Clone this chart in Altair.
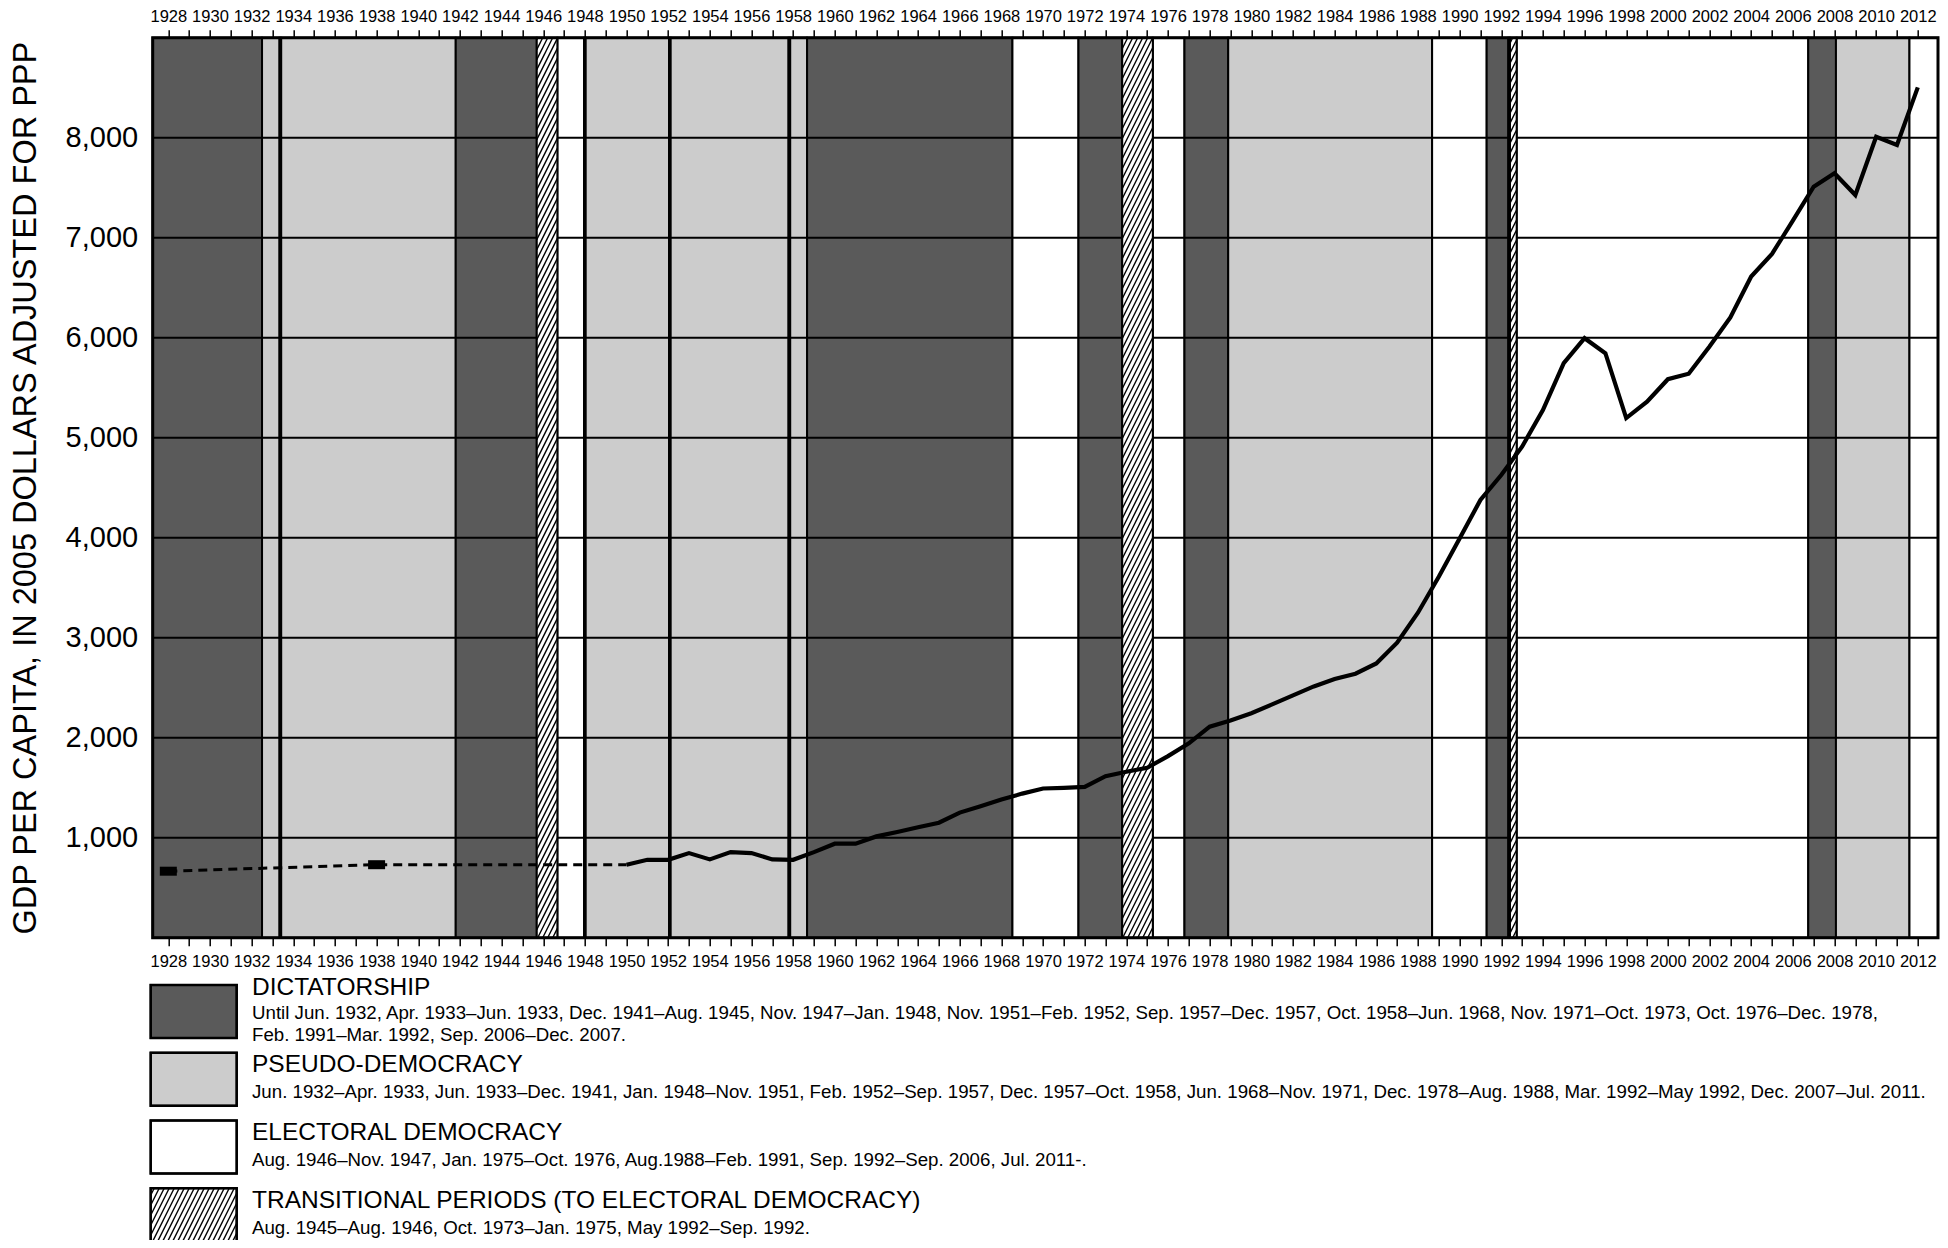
import math
import altair as alt
import pandas as pd

FONT = "Liberation Sans, Arial, Helvetica, sans-serif"

# ---------------- data ----------------
EARLY_YEARS = [1928, 1938, 1950]
EARLY_GDP = [665, 730, 730]
MARKER_YEARS = [1928, 1938]
MARKER_GDP = [665, 730]

SOLID_YEARS = list(range(1950, 2013))
SOLID_GDP = [730, 779, 779, 846, 783, 856, 846, 783, 779, 856,
             940, 940, 1013, 1057, 1104, 1150, 1251, 1314, 1381, 1441,
             1492, 1498, 1508, 1615, 1659, 1699, 1816, 1943, 2110, 2171,
             2244, 2333, 2423, 2513, 2587, 2640, 2743, 2950, 3250, 3610,
             3993, 4377, 4627, 4910, 5277, 5745, 5995, 5845, 5196, 5360,
             5585, 5640, 5912, 6202, 6612, 6838, 7170, 7510, 7644, 7427,
             8010, 7927, 8503]

Y_TICKS = [1000, 2000, 3000, 4000, 5000, 6000, 7000, 8000]
X_TICKS = list(range(1928, 2013))

REG_START = [1927.25, 1932.5, 1933.34, 1933.42, 1941.8, 1945.69, 1946.68, 1947.96, 1948.04,
             1952.04, 1952.12, 1957.78, 1957.86, 1958.67, 1968.53, 1971.7, 1973.8, 1975.27,
             1976.79, 1978.89, 1988.68, 1991.3, 1992.34, 1992.42, 1992.74, 2006.74, 2008.07, 2011.6]
REG_END = [1932.5, 1933.34, 1933.42, 1941.8, 1945.69, 1946.68, 1947.96, 1948.04, 1952.04,
           1952.12, 1957.78, 1957.86, 1958.67, 1968.53, 1971.7, 1973.8, 1975.27, 1976.79,
           1978.89, 1988.68, 1991.3, 1992.34, 1992.42, 1992.74, 2006.74, 2008.07, 2011.6, 2012.97]
REG_TYPE = ["D", "P", "D", "P", "D", "T", "E", "D", "P",
            "D", "P", "D", "P", "D", "E", "D", "T", "E",
            "D", "P", "E", "D", "P", "T", "E", "D", "P", "E"]

REGIMES = ["D", "P", "E", "T"]
LEGEND_TITLES = ["DICTATORSHIP", "PSEUDO-DEMOCRACY", "ELECTORAL DEMOCRACY",
                 "TRANSITIONAL PERIODS (TO ELECTORAL DEMOCRACY)"]
LEGEND_DETAILS = [
    ["Until Jun. 1932, Apr. 1933\u2013Jun. 1933, Dec. 1941\u2013Aug. 1945, Nov. 1947\u2013Jan. 1948, "
     "Nov. 1951\u2013Feb. 1952, Sep. 1957\u2013Dec. 1957, Oct. 1958\u2013Jun. 1968, Nov.  1971\u2013Oct. 1973, "
     "Oct. 1976\u2013Dec. 1978,",
     "Feb. 1991\u2013Mar. 1992, Sep. 2006\u2013Dec. 2007."],
    ["Jun. 1932\u2013Apr. 1933, Jun. 1933\u2013Dec. 1941, Jan. 1948\u2013Nov. 1951, Feb. 1952\u2013Sep. 1957, "
     "Dec. 1957\u2013Oct. 1958, Jun. 1968\u2013Nov. 1971, Dec. 1978\u2013Aug. 1988, Mar. 1992\u2013May 1992, "
     "Dec. 2007\u2013Jul. 2011."],
    ["Aug. 1946\u2013Nov. 1947, Jan. 1975\u2013Oct. 1976, Aug.1988\u2013Feb. 1991, Sep. 1992\u2013Sep. 2006, "
     "Jul. 2011-."],
    ["Aug. 1945\u2013Aug. 1946, Oct. 1973\u2013Jan. 1975, May 1992\u2013Sep. 1992."],
]

# ---------------- layout / style ----------------
W, H = 1785.3, 900
X_DOMAIN = [1927.25, 2012.97]
Y_DOMAIN = [0, 9000]
COLORS = ["#5a5a5a", "#cccccc", "#ffffff", "#ffffff"]
PAD = {"left": 144.7, "top": 29.7, "right": 2, "bottom": 302.3}

LEG_TOP = 947.3
PITCH = 67.75
SW_X0, SW_X1, SW_H = -2, 84, 53
TXT_X = 99.3

ppy = W / (X_DOMAIN[1] - X_DOMAIN[0])
ppv = H / (Y_DOMAIN[1] - Y_DOMAIN[0])


def hatch(x0, x1, y0, y1, spacing=5.0, slope=2.0):
    segs = []
    h = y1 - y0
    k0 = math.floor((x0 - h / slope) / spacing)
    k1 = math.ceil(x1 / spacing)
    for k in range(k0, k1 + 1):
        c = k * spacing
        xa = max(x0, c)
        xb = min(x1, c + h / slope)
        if xb - xa > 0.2:
            segs.append((xa, y0 + slope * (xa - c), xb, y0 + slope * (xb - c)))
    return segs


reg_df = pd.DataFrame({"start": REG_START, "end": REG_END, "regime": REG_TYPE})
base_df = reg_df[reg_df.regime != "T"]
trans_df = reg_df[reg_df.regime == "T"]

hrows = []
for s, e in zip(trans_df.start, trans_df.end):
    for xa, ya, xb, yb in hatch((s - X_DOMAIN[0]) * ppy, (e - X_DOMAIN[0]) * ppy, 0, H):
        hrows.append({"x1": X_DOMAIN[0] + xa / ppy, "x2": X_DOMAIN[0] + xb / ppy,
                      "y1": ya / ppv, "y2": yb / ppv})
hatch_df = pd.DataFrame(hrows)

xs = alt.Scale(domain=X_DOMAIN, nice=False, zero=False)
ys = alt.Scale(domain=Y_DOMAIN, nice=False, zero=False)
fill_scale = alt.Scale(domain=REGIMES, range=COLORS)


def x_axis(orient, pad):
    return alt.Axis(orient=orient, values=X_TICKS, format="d",
                    labelExpr="datum.value % 2 == 0 ? datum.label : ''",
                    tickSize=8, tickWidth=1.5, tickColor="black", domain=False, grid=False,
                    labelFont=FONT, labelFontSize=16.5, labelColor="black", labelPadding=pad,
                    labelOverlap=False, labelFlush=False, labelBound=False, title=None)


y_axis = alt.Axis(values=Y_TICKS, format=",d", ticks=False, domain=False, grid=False,
                  labelFont=FONT, labelFontSize=29, labelColor="black", labelPadding=15,
                  labelOverlap=False, labelFlush=False, labelBound=False,
                  title="GDP PER CAPITA, IN 2005 DOLLARS ADJUSTED FOR PPP",
                  titleFont=FONT, titleFontSize=32.5, titleFontWeight="normal",
                  titleColor="black", titlePadding=23)

base_rects = alt.Chart(base_df).mark_rect(stroke="black", strokeWidth=2).encode(
    x=alt.X("start:Q", scale=xs, axis=x_axis("bottom", 8)),
    x2="end:Q",
    y=alt.Y(datum=0, scale=ys, axis=None),
    y2=alt.Y2(datum=9000),
    fill=alt.Fill("regime:N", scale=fill_scale, legend=None),
)

grid = alt.Chart(pd.DataFrame({"v": Y_TICKS})).mark_rule(color="black", strokeWidth=2).encode(
    y=alt.Y("v:Q", scale=ys, axis=y_axis)
)

trans_rects = alt.Chart(trans_df).mark_rect(stroke="black", strokeWidth=2).encode(
    x=alt.X("start:Q", scale=xs, axis=x_axis("top", 5)),
    x2="end:Q",
    y=alt.Y(datum=0, scale=ys, axis=None),
    y2=alt.Y2(datum=9000),
    fill=alt.Fill("regime:N", scale=fill_scale, legend=None),
)

hatch_lines = alt.Chart(hatch_df).mark_rule(color="black", strokeWidth=1.4).encode(
    x=alt.X("x1:Q", scale=xs, axis=None), x2="x2:Q",
    y=alt.Y("y1:Q", scale=ys, axis=None), y2="y2:Q",
)

early = alt.Chart(pd.DataFrame({"year": EARLY_YEARS, "gdp": EARLY_GDP})).mark_line(
    color="black", strokeWidth=3, strokeDash=[9, 6]).encode(
    x=alt.X("year:Q", scale=xs, axis=None), y=alt.Y("gdp:Q", scale=ys, axis=None))

markers = alt.Chart(pd.DataFrame({"year": MARKER_YEARS, "gdp": MARKER_GDP})).mark_tick(
    orient="horizontal", size=17, thickness=9, color="black", opacity=1).encode(
    x=alt.X("year:Q", scale=xs, axis=None), y=alt.Y("gdp:Q", scale=ys, axis=None))

solid = alt.Chart(pd.DataFrame({"year": SOLID_YEARS, "gdp": SOLID_GDP})).mark_line(
    color="black", strokeWidth=4.2, strokeJoin="miter").encode(
    x=alt.X("year:Q", scale=xs, axis=None), y=alt.Y("gdp:Q", scale=ys, axis=None))

border = alt.Chart(pd.DataFrame({"a": [0]})).mark_rect(
    filled=False, stroke="black", strokeWidth=3).encode(
    x=alt.value(0), x2=alt.value(W), y=alt.value(0), y2=alt.value(H))

main = alt.layer(base_rects, grid, trans_rects, hatch_lines, early, markers, solid,
                 border).resolve_axis(x="independent", y="independent")

# ---------------- legend ----------------
LH = 4 * PITCH
lxs = alt.Scale(domain=[0, W], nice=False, zero=False)
lys = alt.Scale(domain=[0, LH], range=[LEG_TOP, LEG_TOP + LH], nice=False, zero=False)

sw_df = pd.DataFrame({"regime": REGIMES,
                      "x0": [SW_X0] * 4, "x1": [SW_X1] * 4,
                      "y0": [i * PITCH for i in range(4)],
                      "y1": [i * PITCH + SW_H for i in range(4)]})
swatches = alt.Chart(sw_df).mark_rect(stroke="black", strokeWidth=2).encode(
    x=alt.X("x0:Q", scale=lxs, axis=None), x2="x1:Q",
    y=alt.Y("y0:Q", scale=lys, axis=None), y2="y1:Q",
    fill=alt.Fill("regime:N", scale=fill_scale, legend=None))

lh_rows = []
top3 = 3 * PITCH
for xa, ya, xb, yb in hatch(SW_X0, SW_X1, 0, SW_H, spacing=5.0, slope=2.0):
    lh_rows.append({"x1": xa, "x2": xb, "y1": top3 + SW_H - ya, "y2": top3 + SW_H - yb})
leg_hatch = alt.Chart(pd.DataFrame(lh_rows)).mark_rule(color="black", strokeWidth=1.4).encode(
    x=alt.X("x1:Q", scale=lxs, axis=None), x2="x2:Q",
    y=alt.Y("y1:Q", scale=lys, axis=None), y2="y2:Q")
sw_border = alt.Chart(sw_df).mark_rect(filled=False, stroke="black", strokeWidth=2.5).encode(
    x=alt.X("x0:Q", scale=lxs, axis=None), x2="x1:Q",
    y=alt.Y("y0:Q", scale=lys, axis=None), y2="y1:Q")

title_off = [3.3, 12.3, 12.3, 12.3]
detail_off = [[27.7, 50.0], [39.5], [39.5], [39.5]]
t_rows, d_rows = [], []
for i in range(4):
    t_rows.append({"lx": TXT_X, "ly": i * PITCH + title_off[i], "t": LEGEND_TITLES[i]})
    for j, line in enumerate(LEGEND_DETAILS[i]):
        d_rows.append({"lx": TXT_X, "ly": i * PITCH + detail_off[i][j], "t": line})

titles = alt.Chart(pd.DataFrame(t_rows)).mark_text(
    align="left", baseline="middle", font=FONT, fontSize=24.5, color="black").encode(
    x=alt.X("lx:Q", scale=lxs, axis=None), y=alt.Y("ly:Q", scale=lys, axis=None), text="t:N")
details = alt.Chart(pd.DataFrame(d_rows)).mark_text(
    align="left", baseline="middle", font=FONT, fontSize=18.7, color="black").encode(
    x=alt.X("lx:Q", scale=lxs, axis=None), y=alt.Y("ly:Q", scale=lys, axis=None), text="t:N")

legend = alt.layer(swatches, leg_hatch, sw_border, titles, details)

chart = alt.layer(main, legend).resolve_scale(x="independent", y="independent").properties(
    width=W, height=H, padding=PAD, autosize=alt.AutoSizeParams(type="none"),
    background="white",
).configure_view(stroke=None)

chart.save("out.html", embed_options={"renderer": "svg", "actions": False})
